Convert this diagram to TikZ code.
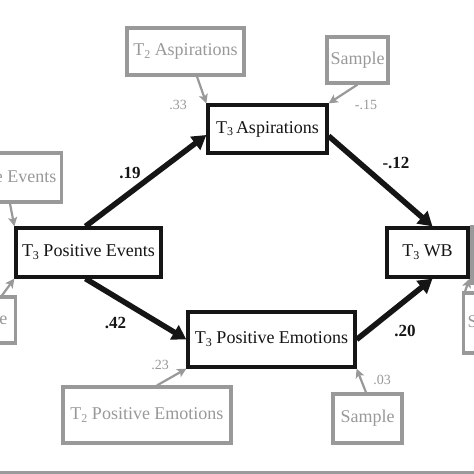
\documentclass[tikz,border=0pt]{standalone}
\usepackage{fontspec}
\setmainfont{Liberation Serif}
\usetikzlibrary{arrows.meta,calc}
\definecolor{lg}{HTML}{999999}
\definecolor{dk}{HTML}{151515}
\newcommand\Tsub[1]{T\raisebox{-0.35ex}{\fontsize{12}{12}\selectfont #1}}
\tikzset{
  blackbox/.style={draw=dk, line width=3.3pt, inner sep=0pt, font=\fontsize{18}{20}\selectfont, text=dk},
  graybox/.style={draw=lg, line width=3.2pt, inner sep=0pt, font=\fontsize{18}{20}\selectfont, text=lg},
  bigarrow/.style={draw=dk, line width=5.5pt, -{Triangle[length=14pt,width=16pt]}},
  grayarrow/.style={draw=lg, line width=2.2pt, -{Stealth[length=9pt,width=9pt,inset=2pt]}},
  coef/.style={font=\bfseries\fontsize{17}{19}\selectfont, text=dk, inner sep=0pt},
  gcoef/.style={font=\fontsize{14}{16}\selectfont, text=lg, inner sep=0pt}
}
\begin{document}
\begin{tikzpicture}[x=1pt,y=-1pt]
\useasboundingbox (0,0) rectangle (474,474);
\clip (0,0) rectangle (474,474);
\fill[white] (0,0) rectangle (474,474);
\fill[lg] (0,471) rectangle (474,474);
% main boxes
\node[blackbox, minimum width=145pt, minimum height=49pt] (pe) at (88.5,252.5) {\Tsub{3} Positive Events};
\node[blackbox, minimum width=119pt, minimum height=48pt] (asp) at (267.5,129) {\Tsub{3}\,Aspirations};
\node[blackbox, minimum width=81pt, minimum height=49pt] (wb) at (427.5,252.5) {\Tsub{3} WB};
\node[blackbox, minimum width=167pt, minimum height=55pt] (pem) at (271.5,339.5) {\Tsub{3} Positive Emotions};
% gray boxes
\node[graybox, minimum width=117pt, minimum height=47pt] (t2asp) at (185.5,51.5) {\Tsub{2} Aspirations};
\node[graybox, minimum width=61pt, minimum height=46pt] (samptop) at (357.5,60) {Sample};
\node[graybox, minimum width=168pt, minimum height=56pt] (t2pem) at (147,415) {\Tsub{2} Positive Emotions};
\node[graybox, minimum width=69pt, minimum height=49pt] (sampbot) at (367.5,418.5) {Sample};
\node[graybox, anchor=east, inner xsep=5pt, minimum height=49pt] (lefttop) at (63,177.5) {\Tsub{2} Positive Events};
\node[graybox, anchor=east, inner xsep=8pt, minimum height=46pt] (leftbot) at (17,320) {Sample};
\node[graybox, anchor=west, inner xsep=4pt, minimum height=60pt] (rightbox) at (462,323) {Sample};
\node[graybox, minimum width=68pt, minimum height=56pt] (rightwb) at (506,255) {};
% structural paths
\draw[bigarrow] ($(pe.north)+(-3,0)$) -- ($(asp.west)+(0,6)$);
\draw[bigarrow] ($(pe.south)+(-3,0)$) -- (pem.west);
\draw[bigarrow] ($(asp.east)+(0,7)$) -- ($(wb.north)+(5,0)$);
\draw[bigarrow] (pem.east) -- ($(wb.south)+(5,0)$);
% control paths
\draw[grayarrow] ($(t2asp.south)+(11.5,0)$) -- (asp.north west);
\draw[grayarrow] (samptop.south) -- (asp.north east);
\draw[grayarrow] ($(t2pem.north)+(10,0)$) -- (pem.south west);
\draw[grayarrow] ($(sampbot.north)+(-1.5,0)$) -- (pem.south east);
\draw[grayarrow] ($(lefttop.south east)+(-53,0)$) -- (pe.north west);
\draw[grayarrow] ($(leftbot.north east)+(-15,0)$) -- (pe.south west);
\draw[grayarrow] ($(rightbox.north west)+(3,0)$) -- (wb.south east);
% coefficients
\node[coef] (c19) at (130,173) {.19};
\node[coef] (c42) at (115.5,323) {.42};
\node[coef] (c12) at (396,163) {-.12};
\node[coef] (c20) at (405,331) {.20};
\node[gcoef] (c33) at (178,105) {.33};
\node[gcoef] (c15) at (366,105) {-.15};
\node[gcoef] (c23) at (160,365) {.23};
\node[gcoef] (c03) at (382,380) {.03};
\end{tikzpicture}
\end{document}
